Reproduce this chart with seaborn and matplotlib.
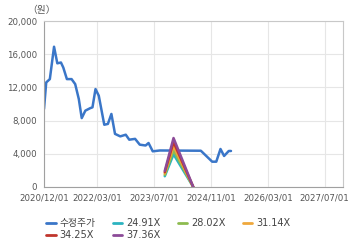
import matplotlib
matplotlib.use("Agg")
import matplotlib.pyplot as plt
import matplotlib.ticker as mticker
from matplotlib.lines import Line2D
import seaborn as sns
import pandas as pd

price_dates = ["2020-12-01", "2020-12-20", "2021-01-20", "2021-02-25", "2021-03-25",
               "2021-04-25", "2021-05-15", "2021-06-15", "2021-07-25", "2021-08-25",
               "2021-09-25", "2021-10-20", "2021-11-20", "2022-01-01", "2022-01-20",
               "2022-02-15", "2022-03-15", "2022-05-01", "2022-06-01", "2022-07-01",
               "2022-08-01", "2022-09-15", "2022-11-01", "2022-12-01", "2023-01-20",
               "2023-03-01", "2023-04-20", "2023-05-15", "2023-06-20", "2023-08-20",
               "2024-08-05", "2024-11-10", "2024-12-15", "2025-01-20", "2025-02-20",
               "2025-04-01", "2025-04-20"]
price_values = [9400, 12600, 13000, 16900, 14900,
                15000, 14400, 13000, 13000, 12400,
                10600, 8300, 9200, 9500, 9600,
                11800, 11000, 7500, 7600, 8800,
                6400, 6100, 6300, 5700, 5800,
                5100, 5000, 5300, 4300, 4400,
                4370, 3050, 3050, 4580, 3740,
                4340, 4340]

eps_dates = ["2023-10-01", "2023-12-15", "2024-06-01"]
eps_values = [52, 158, 0]
multiples = [24.91, 28.02, 31.14, 34.25, 37.36]
multiple_labels = ["24.91X", "28.02X", "31.14X", "34.25X", "37.36X"]
price_label = "수정주가"

x_ticks = ["2020-12-01", "2022-03-01", "2023-07-01", "2024-11-01", "2026-03-01", "2027-07-01"]
x_tick_labels = ["2020/12/01", "2022/03/01", "2023/07/01", "2024/11/01", "2026/03/01", "2027/07/01"]
y_ticks = [0, 4000, 8000, 12000, 16000, 20000]

colors = {"수정주가": "#3a76c8", "24.91X": "#2bb3c0", "28.02X": "#8dbb4f",
          "31.14X": "#efa83c", "34.25X": "#c0352d", "37.36X": "#8c4b98"}

sns.set_style("white")
plt.rcParams["font.family"] = ["DejaVu Sans", "Noto Sans CJK KR"]

rows = []
for d, v in zip(price_dates, price_values):
    rows.append({"date": pd.Timestamp(d), "value": v, "series": price_label})
for m, lab in zip(multiples, multiple_labels):
    for d, e in zip(eps_dates, eps_values):
        rows.append({"date": pd.Timestamp(d), "value": m * e, "series": lab})
df = pd.DataFrame(rows)

fig = plt.figure(figsize=(3.6, 2.48), dpi=100)
ax = fig.add_axes([44 / 360, (248 - 187) / 248, (343 - 44) / 360, (187 - 21) / 248])

order = [price_label] + multiple_labels
sns.lineplot(data=df, x="date", y="value", hue="series", hue_order=order,
             palette=colors, ax=ax, linewidth=1.8, legend=False, sort=False)

ax.set_xlim(pd.Timestamp("2020-12-01"), pd.Timestamp("2027-12-05"))
ax.set_ylim(0, 20000)
ax.set_xticks([pd.Timestamp(t) for t in x_ticks])
ax.set_xticklabels(x_tick_labels)
ax.set_yticks(y_ticks)
ax.yaxis.set_major_formatter(mticker.FuncFormatter(lambda v, p: f"{int(v):,}"))
ax.set_xlabel("")
ax.set_ylabel("")
ax.grid(True, color="#e6e6e6", linewidth=0.8)
ax.set_axisbelow(True)
for s in ["top", "right"]:
    ax.spines[s].set_color("#c8c8c8")
    ax.spines[s].set_linewidth(0.8)
for s in ["left", "bottom"]:
    ax.spines[s].set_color("#a0a0a0")
    ax.spines[s].set_linewidth(0.8)
ax.tick_params(axis="both", labelsize=6.2, colors="#555555", length=3, width=0.6,
               color="#a0a0a0", pad=2)
ax.tick_params(axis="x", length=0, pad=5)

fig.text(27 / 360, 1 - 10 / 248, "（원）", fontsize=7, color="#555555", va="center",
         ha="left", family=["Noto Sans CJK KR", "DejaVu Sans"])

# reorder so legend fills row-wise (matplotlib fills column-wise)
leg_order = [order[0], order[4], order[1], order[5], order[2], order[3]]
handles = [Line2D([0], [0], color=colors[s], linewidth=2) for s in leg_order]
fig.legend(handles, leg_order, ncol=4, loc="upper left",
           bbox_to_anchor=(46 / 360, 1 - 218 / 248), frameon=False,
           fontsize=7, handlelength=1.0, handletextpad=0.4, columnspacing=1.75,
           labelspacing=0.25, borderaxespad=0, borderpad=0.0)
for t in fig.legends[0].get_texts():
    t.set_color("#444444")

fig.savefig("out.png", dpi=100)
